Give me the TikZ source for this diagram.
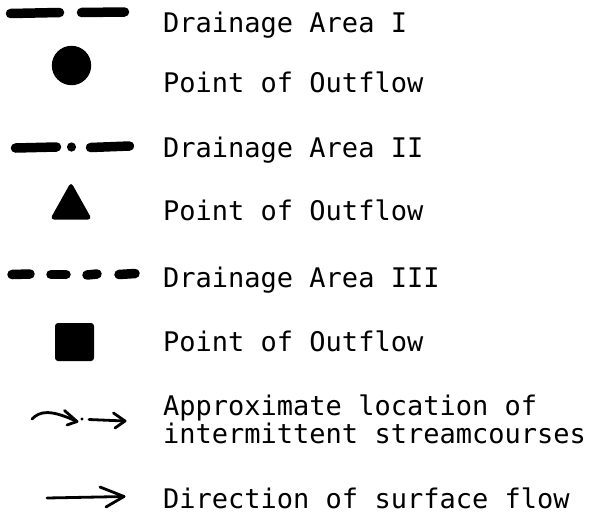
\documentclass[tikz,border=0pt]{standalone}
\usepackage{fontspec}
\newfontfamily\legmono{DejaVu Sans Mono}
\begin{document}
\begin{tikzpicture}[x=1pt,y=-1pt,
  legtext/.style={anchor=base west,inner sep=0pt,font=\legmono\fontsize{27}{28}\selectfont},
  fat/.style={line width=9.5pt,line cap=round},
  pen/.style={line width=2.8pt,line cap=round,line join=round}]
\useasboundingbox (0,0) rectangle (591,520);
% row 1: Drainage Area I
\draw[fat] (10.5,13.5) -- (59.5,12.5);
\draw[fat] (81.5,12.5) -- (124.5,12);
\node[legtext] (t1) at (163,32) {Drainage Area I};
% row 2: circle
\fill (71.5,65.5) circle (19.7);
\node[legtext] (t2) at (163,92) {Point of Outflow};
% row 3: Drainage Area II
\draw[fat] (15.5,148) -- (56.5,147);
\fill (71.5,147) circle (4.6);
\draw[fat] (90.5,147.5) -- (129.5,146);
\node[legtext] (t3) at (163,157) {Drainage Area II};
% row 4: triangle
\fill[rounded corners=4pt] (71,182) -- (92,219.5) -- (50,219.5) -- cycle;
\node[legtext] (t4) at (163,220) {Point of Outflow};
% row 5: Drainage Area III
\draw[fat] (12,274.5) -- (30,274);
\draw[fat] (51,274.5) -- (66,274.5);
\draw[fat] (87,275) -- (97,274);
\draw[fat] (119,274.5) -- (135,273.5);
\node[legtext] (t5) at (163,287) {Drainage Area III};
% row 6: square
\fill[rounded corners=3pt] (55,323) rectangle (94,361);
\node[legtext] (t6) at (163,351) {Point of Outflow};
% row 7: intermittent streamcourse arrow
\draw[pen] (32,419) .. controls (40,411) and (50,409) .. (77,421.5);
\draw[pen] (64.5,410.5) -- (77,421.5) -- (67,425);
\fill (82,419) circle (1.6);
\draw[pen] (89,419.5) -- (125,421);
\draw[pen] (113.5,413) -- (125,421) -- (115,428);
\node[legtext] (t7) at (163,415) {Approximate location of};
\node[legtext] (t7b) at (163,443) {intermittent streamcourses};
% row 8: direction of surface flow
\draw[pen] (47,498) -- (124,496.5);
\draw[pen] (100,487) -- (124,496.5) -- (106,507);
\node[legtext] (t8) at (163,508) {Direction of surface flow};
\end{tikzpicture}
\end{document}
